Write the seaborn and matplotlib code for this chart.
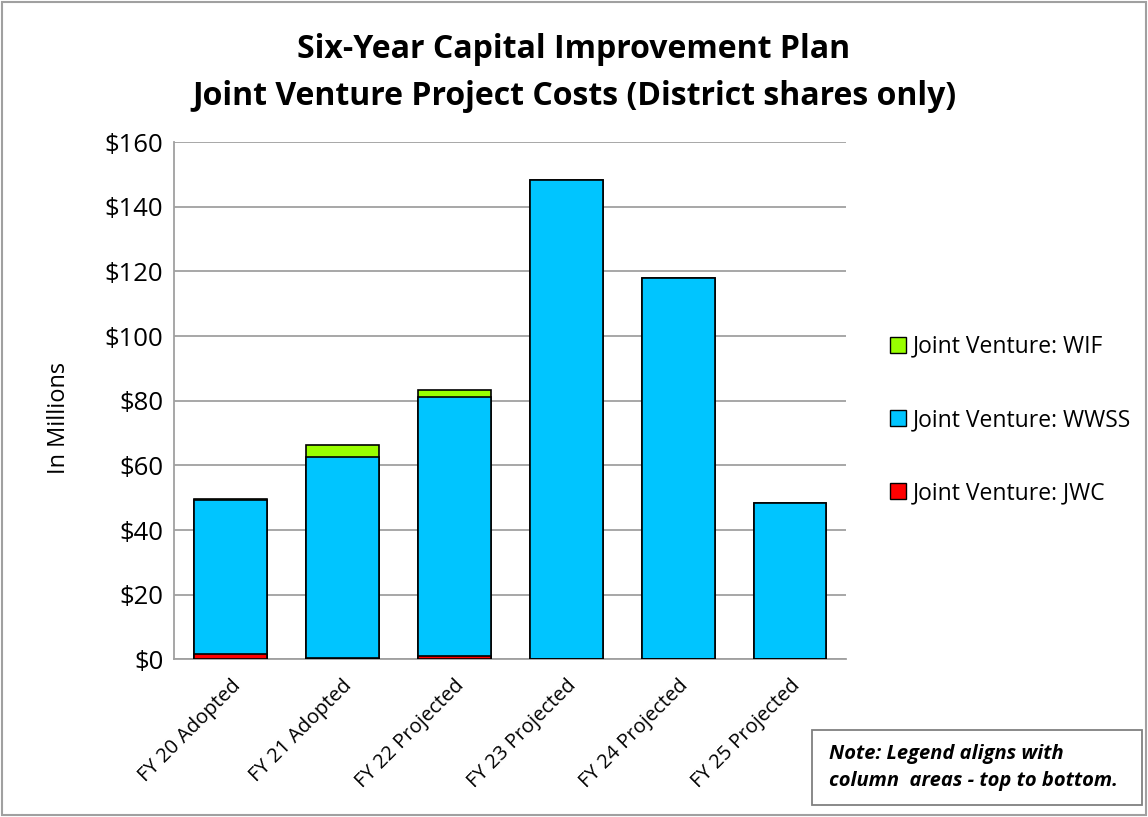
import matplotlib
matplotlib.use("Agg")
import matplotlib.pyplot as plt
import seaborn as sns
import numpy as np
import pandas as pd
from matplotlib.patches import Patch

categories = ["FY 20 Adopted", "FY 21 Adopted", "FY 22 Projected",
              "FY 23 Projected", "FY 24 Projected", "FY 25 Projected"]
jwc = [1.6, 0.3, 1.0, 0.2, 0.2, 0.2]
wwss = [47.6, 62.3, 80.1, 148.1, 117.8, 48.1]
wif = [0.4, 3.6, 2.2, 0.0, 0.0, 0.0]
series_names = ["Joint Venture: WIF", "Joint Venture: WWSS", "Joint Venture: JWC"]
colors = {"Joint Venture: WIF": "#99FF00", "Joint Venture: WWSS": "#00C5FF", "Joint Venture: JWC": "#FF0000"}
yticks = [0, 20, 40, 60, 80, 100, 120, 140, 160]

sns.set_theme(style="white")
plt.rcParams['font.family'] = ['Open Sans', 'DejaVu Sans']
plt.rcParams['text.color'] = 'black'
plt.rcParams['axes.labelcolor'] = 'black'
plt.rcParams['xtick.color'] = 'black'
plt.rcParams['ytick.color'] = 'black'

fig = plt.figure(figsize=(11.48, 8.17), dpi=100)
ax = fig.add_axes([0.152, 0.193, 0.585, 0.633])

df = pd.DataFrame({"cat": categories, "jwc": jwc, "wwss": wwss, "wif": wif})
df["c1"] = df["jwc"]
df["c2"] = df["jwc"] + df["wwss"]
df["c3"] = df["c2"] + df["wif"]

for col, name in [("c3", "Joint Venture: WIF"), ("c2", "Joint Venture: WWSS"), ("c1", "Joint Venture: JWC")]:
    sns.barplot(data=df, x="cat", y=col, color=colors[name], edgecolor="black",
                linewidth=1.2, width=0.65, saturation=1, ax=ax, zorder=3)

ax.set_ylim(0, 160)
ax.set_xlim(-0.5, 5.5)
ax.set_yticks(yticks)
ax.set_yticklabels([f"${v}" for v in yticks], fontsize=18.5)
ax.set_xticks(range(len(categories)))
ax.set_xticklabels(categories, rotation=45, ha="right", rotation_mode="anchor", fontsize=14.5)
ax.tick_params(axis="x", pad=12)
ax.tick_params(axis="y", pad=8)
ax.set_xlabel("")
ax.set_ylabel("In Millions", fontsize=17)
ax.yaxis.set_label_coords(-0.154, 0.466)
ax.yaxis.grid(True, color="#A0A0A0", linewidth=1.3, zorder=0)
ax.set_axisbelow(True)
for s in ["top", "right"]:
    ax.spines[s].set_visible(False)
for s in ["left", "bottom"]:
    ax.spines[s].set_color("#A0A0A0")
    ax.spines[s].set_linewidth(1.3)
ax.tick_params(length=0)

fig.text(0.5, 0.911, "Six-Year Capital Improvement Plan\nJoint Venture Project Costs (District shares only)",
         ha="center", va="center", fontsize=23, fontweight="bold", linespacing=1.57)

handles = [Patch(facecolor=colors[n], edgecolor="black", linewidth=1, label=n) for n in series_names]
fig.legend(handles=handles, loc="center left", bbox_to_anchor=(0.757, 0.486), frameon=False,
           fontsize=16.5, labelspacing=2.15, handlelength=0.7, handleheight=0.7, handletextpad=0.3)

fig.patches.append(plt.Rectangle((0.707, 0.0147), 0.288, 0.092, transform=fig.transFigure,
                                 facecolor="white", edgecolor="#808080", linewidth=1.3))
fig.text(0.722, 0.061, "Note: Legend aligns with\ncolumn  areas - top to bottom.", fontsize=14.5,
         fontweight="bold", fontstyle="italic", ha="left", va="center", linespacing=1.45)

fig.patches.append(plt.Rectangle((0.002, 0.002), 0.996, 0.996, transform=fig.transFigure,
                                 fill=False, edgecolor="#A0A0A0", linewidth=1.5))

fig.savefig("out.png", dpi=100)
